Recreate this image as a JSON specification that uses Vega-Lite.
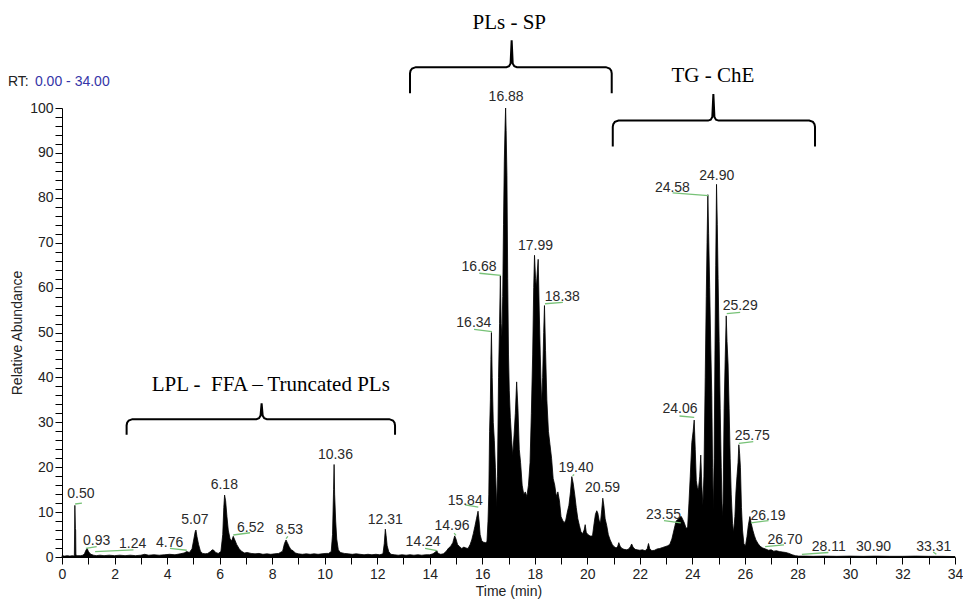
{
  "$schema": "https://vega.github.io/schema/vega-lite/v6.json",
  "width": 893,
  "height": 449,
  "autosize": {"type": "none"},
  "padding": {"left": 62, "top": 108, "right": 8, "bottom": 43},
  "background": "white",
  "config": {
    "view": {"stroke": null},
    "font": "Liberation Sans",
    "axis": {"grid": false, "domainColor": "#000000", "tickColor": "#000000", "labelColor": "#222222", "titleColor": "#222222", "labelFont": "Liberation Sans", "titleFont": "Liberation Sans", "labelFontSize": 14, "titleFontSize": 14, "titleFontWeight": "normal", "labelOverlap": false}
  },
  "datasets": {
    "chrom": [
      {"t":0.00,"a":0.3},{"t":0.10,"a":0.2},{"t":0.20,"a":0.3},{"t":0.30,"a":0.2},{"t":0.40,"a":0.3},{"t":0.47,"a":0.2},{"t":0.49,"a":11.5},{"t":0.51,"a":6.3},{"t":0.52,"a":6.0},{"t":0.53,"a":0.4},
      {"t":0.60,"a":0.3},{"t":0.70,"a":0.3},{"t":0.80,"a":0.4},{"t":0.86,"a":0.8},{"t":0.92,"a":1.6},{"t":0.96,"a":1.9},{"t":1.00,"a":1.3},{"t":1.05,"a":0.9},{"t":1.10,"a":0.6},{"t":1.20,"a":0.4},
      {"t":1.30,"a":0.3},{"t":1.45,"a":0.4},{"t":1.60,"a":0.3},{"t":1.80,"a":0.4},{"t":2.00,"a":0.3},{"t":2.20,"a":0.4},{"t":2.40,"a":0.3},{"t":2.60,"a":0.4},{"t":2.80,"a":0.3},{"t":3.00,"a":0.4},
      {"t":3.15,"a":0.6},{"t":3.30,"a":0.4},{"t":3.50,"a":0.5},{"t":3.70,"a":0.4},{"t":3.90,"a":0.5},{"t":4.10,"a":0.6},{"t":4.30,"a":0.5},{"t":4.50,"a":0.7},{"t":4.65,"a":0.9},{"t":4.75,"a":1.2},
      {"t":4.85,"a":1.0},{"t":4.95,"a":1.8},{"t":5.02,"a":4.0},{"t":5.07,"a":5.6},{"t":5.10,"a":6.0},{"t":5.14,"a":4.5},{"t":5.20,"a":2.8},{"t":5.27,"a":1.3},{"t":5.35,"a":0.8},{"t":5.45,"a":0.7},
      {"t":5.55,"a":0.8},{"t":5.65,"a":1.2},{"t":5.72,"a":1.6},{"t":5.78,"a":1.5},{"t":5.85,"a":1.0},{"t":5.95,"a":0.8},{"t":6.05,"a":1.2},{"t":6.12,"a":5.0},{"t":6.16,"a":11.0},{"t":6.19,"a":13.8},
      {"t":6.23,"a":12.5},{"t":6.28,"a":9.0},{"t":6.33,"a":6.0},{"t":6.40,"a":4.0},{"t":6.46,"a":3.6},{"t":6.52,"a":4.6},{"t":6.58,"a":3.8},{"t":6.65,"a":2.8},{"t":6.75,"a":1.8},{"t":6.85,"a":1.2},
      {"t":6.95,"a":0.9},{"t":7.05,"a":1.0},{"t":7.20,"a":0.8},{"t":7.35,"a":0.7},{"t":7.50,"a":0.8},{"t":7.65,"a":0.6},{"t":7.80,"a":0.7},{"t":7.95,"a":0.6},{"t":8.10,"a":0.7},{"t":8.25,"a":0.8},
      {"t":8.40,"a":1.3},{"t":8.47,"a":3.0},{"t":8.53,"a":3.8},{"t":8.58,"a":3.2},{"t":8.65,"a":2.3},{"t":8.72,"a":1.6},{"t":8.80,"a":1.4},{"t":8.88,"a":0.9},{"t":9.00,"a":0.7},{"t":9.15,"a":0.6},
      {"t":9.30,"a":0.7},{"t":9.45,"a":0.6},{"t":9.60,"a":0.7},{"t":9.75,"a":0.6},{"t":9.90,"a":0.7},{"t":10.05,"a":0.8},{"t":10.15,"a":0.8},{"t":10.25,"a":1.2},{"t":10.30,"a":5.0},{"t":10.34,"a":15.0},
      {"t":10.36,"a":20.6},{"t":10.38,"a":14.0},{"t":10.42,"a":8.0},{"t":10.46,"a":4.0},{"t":10.52,"a":1.6},{"t":10.60,"a":1.0},{"t":10.75,"a":0.8},{"t":10.90,"a":0.7},{"t":11.05,"a":0.6},{"t":11.20,"a":0.7},
      {"t":11.35,"a":0.6},{"t":11.50,"a":0.5},{"t":11.65,"a":0.6},{"t":11.80,"a":0.5},{"t":11.95,"a":0.6},{"t":12.10,"a":0.5},{"t":12.22,"a":0.7},{"t":12.27,"a":3.0},{"t":12.31,"a":6.2},{"t":12.34,"a":4.8},
      {"t":12.38,"a":2.5},{"t":12.44,"a":1.2},{"t":12.52,"a":0.6},{"t":12.65,"a":0.5},{"t":12.80,"a":0.4},{"t":12.95,"a":0.5},{"t":13.10,"a":0.4},{"t":13.25,"a":0.5},{"t":13.40,"a":0.4},{"t":13.55,"a":0.5},
      {"t":13.70,"a":0.4},{"t":13.85,"a":0.5},{"t":14.00,"a":0.5},{"t":14.12,"a":0.7},{"t":14.22,"a":1.1},{"t":14.27,"a":1.4},{"t":14.32,"a":0.8},{"t":14.42,"a":0.6},{"t":14.52,"a":0.7},{"t":14.62,"a":1.2},
      {"t":14.72,"a":2.0},{"t":14.80,"a":2.4},{"t":14.88,"a":3.2},{"t":14.95,"a":4.7},{"t":15.00,"a":4.0},{"t":15.06,"a":2.8},{"t":15.14,"a":2.3},{"t":15.22,"a":1.9},{"t":15.30,"a":2.2},{"t":15.38,"a":2.0},
      {"t":15.46,"a":1.9},{"t":15.54,"a":2.8},{"t":15.60,"a":3.8},{"t":15.66,"a":5.2},{"t":15.72,"a":6.8},{"t":15.78,"a":8.5},{"t":15.84,"a":10.2},{"t":15.88,"a":8.0},{"t":15.92,"a":5.0},{"t":15.98,"a":3.6},
      {"t":16.05,"a":3.3},{"t":16.12,"a":3.2},{"t":16.18,"a":3.4},{"t":16.22,"a":8.0},{"t":16.25,"a":14.0},{"t":16.28,"a":28.0},{"t":16.31,"a":35.0},{"t":16.33,"a":44.0},{"t":16.35,"a":50.0},{"t":16.38,"a":40.0},
      {"t":16.42,"a":30.0},{"t":16.46,"a":26.0},{"t":16.50,"a":20.0},{"t":16.55,"a":11.0},{"t":16.58,"a":18.0},{"t":16.62,"a":40.0},{"t":16.66,"a":52.0},{"t":16.69,"a":62.6},{"t":16.72,"a":52.0},{"t":16.75,"a":49.0},
      {"t":16.78,"a":58.0},{"t":16.81,"a":74.0},{"t":16.84,"a":88.0},{"t":16.87,"a":96.0},{"t":16.89,"a":100},{"t":16.91,"a":95.0},{"t":16.94,"a":85.0},{"t":16.97,"a":62.0},{"t":17.00,"a":45.0},{"t":17.03,"a":37.0},
      {"t":17.07,"a":31.0},{"t":17.12,"a":26.0},{"t":17.16,"a":22.6},{"t":17.21,"a":27.0},{"t":17.26,"a":32.0},{"t":17.31,"a":39.0},{"t":17.36,"a":33.0},{"t":17.41,"a":24.0},{"t":17.46,"a":21.0},{"t":17.52,"a":16.0},
      {"t":17.58,"a":14.0},{"t":17.64,"a":14.5},{"t":17.70,"a":13.5},{"t":17.76,"a":16.0},{"t":17.82,"a":21.0},{"t":17.87,"a":32.0},{"t":17.92,"a":45.0},{"t":17.96,"a":60.0},{"t":17.99,"a":67.2},{"t":18.03,"a":62.0},
      {"t":18.06,"a":60.0},{"t":18.09,"a":63.0},{"t":18.13,"a":66.3},{"t":18.17,"a":55.0},{"t":18.21,"a":45.0},{"t":18.26,"a":34.0},{"t":18.30,"a":40.0},{"t":18.34,"a":50.0},{"t":18.37,"a":56.0},{"t":18.41,"a":46.0},
      {"t":18.46,"a":35.0},{"t":18.52,"a":28.0},{"t":18.58,"a":25.0},{"t":18.64,"a":22.0},{"t":18.70,"a":17.5},{"t":18.76,"a":16.0},{"t":18.82,"a":13.5},{"t":18.88,"a":14.5},{"t":18.94,"a":12.5},{"t":19.00,"a":9.0},
      {"t":19.06,"a":8.2},{"t":19.12,"a":7.6},{"t":19.18,"a":8.2},{"t":19.24,"a":10.0},{"t":19.30,"a":11.5},{"t":19.36,"a":14.5},{"t":19.41,"a":17.9},{"t":19.46,"a":16.5},{"t":19.52,"a":14.0},{"t":19.58,"a":11.0},
      {"t":19.64,"a":8.5},{"t":19.70,"a":7.0},{"t":19.76,"a":5.6},{"t":19.82,"a":5.2},{"t":19.88,"a":6.0},{"t":19.92,"a":7.2},{"t":19.96,"a":5.5},{"t":20.02,"a":5.0},{"t":20.08,"a":4.8},{"t":20.14,"a":4.6},
      {"t":20.20,"a":4.8},{"t":20.26,"a":7.5},{"t":20.31,"a":9.5},{"t":20.36,"a":10.3},{"t":20.40,"a":9.8},{"t":20.45,"a":8.2},{"t":20.50,"a":7.6},{"t":20.55,"a":10.5},{"t":20.59,"a":13.1},{"t":20.63,"a":11.5},
      {"t":20.68,"a":8.5},{"t":20.74,"a":7.0},{"t":20.80,"a":5.0},{"t":20.87,"a":3.8},{"t":20.95,"a":2.8},{"t":21.02,"a":2.3},{"t":21.10,"a":2.0},{"t":21.16,"a":2.4},{"t":21.20,"a":3.2},{"t":21.25,"a":2.4},
      {"t":21.32,"a":1.9},{"t":21.40,"a":1.7},{"t":21.50,"a":1.6},{"t":21.58,"a":1.8},{"t":21.64,"a":2.3},{"t":21.69,"a":2.9},{"t":21.74,"a":2.2},{"t":21.82,"a":1.7},{"t":21.90,"a":1.6},{"t":22.00,"a":1.5},
      {"t":22.10,"a":1.6},{"t":22.20,"a":1.4},{"t":22.28,"a":1.8},{"t":22.33,"a":3.0},{"t":22.38,"a":1.8},{"t":22.46,"a":1.4},{"t":22.56,"a":1.5},{"t":22.66,"a":1.8},{"t":22.76,"a":1.9},{"t":22.86,"a":2.1},
      {"t":22.96,"a":2.3},{"t":23.06,"a":2.5},{"t":23.14,"a":2.8},{"t":23.22,"a":4.0},{"t":23.30,"a":6.0},{"t":23.38,"a":8.0},{"t":23.46,"a":8.4},{"t":23.52,"a":8.9},{"t":23.58,"a":9.0},{"t":23.64,"a":8.3},
      {"t":23.70,"a":7.5},{"t":23.76,"a":6.4},{"t":23.82,"a":6.6},{"t":23.87,"a":12.0},{"t":23.92,"a":18.0},{"t":23.98,"a":25.5},{"t":24.03,"a":28.0},{"t":24.07,"a":30.5},{"t":24.11,"a":24.0},{"t":24.15,"a":17.0},
      {"t":24.19,"a":15.5},{"t":24.23,"a":15.0},{"t":24.28,"a":18.0},{"t":24.32,"a":22.7},{"t":24.36,"a":16.0},{"t":24.40,"a":11.5},{"t":24.44,"a":18.0},{"t":24.49,"a":40.0},{"t":24.53,"a":58.0},{"t":24.56,"a":70.0},
      {"t":24.59,"a":80.7},{"t":24.62,"a":72.0},{"t":24.66,"a":60.0},{"t":24.70,"a":47.0},{"t":24.74,"a":36.0},{"t":24.77,"a":20.0},{"t":24.80,"a":10.5},{"t":24.83,"a":22.0},{"t":24.86,"a":45.0},{"t":24.89,"a":65.0},
      {"t":24.92,"a":83.0},{"t":24.95,"a":74.0},{"t":24.98,"a":62.0},{"t":25.02,"a":48.0},{"t":25.06,"a":33.0},{"t":25.10,"a":20.0},{"t":25.14,"a":9.0},{"t":25.17,"a":12.0},{"t":25.21,"a":33.0},{"t":25.25,"a":44.0},
      {"t":25.29,"a":53.7},{"t":25.32,"a":48.0},{"t":25.36,"a":43.0},{"t":25.40,"a":33.0},{"t":25.44,"a":22.0},{"t":25.48,"a":14.0},{"t":25.53,"a":7.5},{"t":25.57,"a":5.5},{"t":25.62,"a":9.0},{"t":25.66,"a":14.5},
      {"t":25.70,"a":18.0},{"t":25.74,"a":21.0},{"t":25.77,"a":25.0},{"t":25.80,"a":23.0},{"t":25.83,"a":20.0},{"t":25.87,"a":11.0},{"t":25.91,"a":6.0},{"t":25.96,"a":3.0},{"t":26.02,"a":2.4},{"t":26.08,"a":4.5},
      {"t":26.13,"a":7.0},{"t":26.19,"a":9.0},{"t":26.24,"a":7.5},{"t":26.30,"a":6.0},{"t":26.36,"a":4.8},{"t":26.42,"a":3.8},{"t":26.50,"a":3.0},{"t":26.58,"a":2.4},{"t":26.68,"a":2.0},{"t":26.78,"a":1.8},
      {"t":26.90,"a":1.5},{"t":27.00,"a":1.6},{"t":27.10,"a":1.3},{"t":27.20,"a":1.4},{"t":27.32,"a":1.2},{"t":27.44,"a":1.1},{"t":27.56,"a":1.0},{"t":27.68,"a":0.8},{"t":27.80,"a":0.5},{"t":27.92,"a":0.3},
      {"t":28.05,"a":0.2},{"t":28.30,"a":0.2},{"t":28.60,"a":0.15},{"t":29.00,"a":0.2},{"t":29.50,"a":0.15},{"t":30.00,"a":0.2},{"t":30.50,"a":0.15},{"t":31.00,"a":0.2},{"t":31.50,"a":0.15},{"t":32.00,"a":0.15},
      {"t":32.50,"a":0.2},{"t":33.00,"a":0.15},{"t":33.50,"a":0.15},{"t":34.00,"a":0.1}
    ],
    "labels": [
      {"lab":"0.50","t":0.72,"a":14.0},{"lab":"0.93","t":1.32,"a":3.6},{"lab":"1.24","t":2.69,"a":2.9},{"lab":"4.76","t":4.10,"a":3.2},
      {"lab":"5.07","t":5.06,"a":8.2},{"lab":"6.18","t":6.18,"a":16.0},{"lab":"6.52","t":7.18,"a":6.4},{"lab":"8.53","t":8.66,"a":6.0},
      {"lab":"10.36","t":10.41,"a":22.7},{"lab":"12.31","t":12.31,"a":8.2},{"lab":"14.24","t":13.75,"a":3.3},{"lab":"14.96","t":14.85,"a":6.9},
      {"lab":"15.84","t":15.35,"a":12.5},{"lab":"16.34","t":15.68,"a":52.1},{"lab":"16.68","t":15.88,"a":64.5},{"lab":"16.88","t":16.91,"a":102.4},
      {"lab":"17.99","t":18.03,"a":69.2},{"lab":"18.38","t":19.05,"a":58.0},{"lab":"19.40","t":19.57,"a":19.8},{"lab":"20.59","t":20.58,"a":15.3},
      {"lab":"23.55","t":22.90,"a":9.4},{"lab":"24.06","t":23.53,"a":32.9},{"lab":"24.58","t":23.24,"a":82.2},{"lab":"24.90","t":24.93,"a":84.9},
      {"lab":"25.29","t":25.82,"a":55.8},{"lab":"25.75","t":26.28,"a":27.0},{"lab":"26.19","t":26.88,"a":9.1},{"lab":"26.70","t":27.53,"a":3.8},
      {"lab":"28.11","t":29.19,"a":2.3},{"lab":"30.90","t":30.90,"a":2.3},{"lab":"33.31","t":33.19,"a":2.3}
    ],
    "greens": [
      {"t":0.50,"a":11.8,"t2":0.76,"a2":12.0},{"t":0.91,"a":1.9,"t2":1.32,"a2":2.3},{"t":1.26,"a":1.2,"t2":2.72,"a2":1.6},{"t":4.11,"a":1.9,"t2":4.75,"a2":1.5},
      {"t":6.52,"a":4.9,"t2":7.16,"a2":5.4},{"t":8.53,"a":4.1,"t2":8.60,"a2":4.6},{"t":13.82,"a":1.9,"t2":14.27,"a2":1.4},{"t":14.93,"a":5.3,"t2":15.00,"a2":4.8},
      {"t":15.35,"a":11.6,"t2":15.85,"a2":11.1},{"t":15.69,"a":50.7,"t2":16.37,"a2":50.2},{"t":15.89,"a":63.2,"t2":16.71,"a2":62.7},{"t":18.39,"a":56.4,"t2":19.07,"a2":56.7},
      {"t":19.44,"a":18.1,"t2":19.50,"a2":18.4},{"t":22.92,"a":8.1,"t2":23.56,"a2":7.6},{"t":23.51,"a":31.4,"t2":24.07,"a2":31.1},{"t":23.25,"a":81.1,"t2":24.61,"a2":80.5},
      {"t":25.31,"a":54.2,"t2":25.82,"a2":54.5},{"t":25.77,"a":25.3,"t2":26.32,"a2":25.7},{"t":26.23,"a":7.6,"t2":26.90,"a2":8.1},{"t":26.77,"a":2.3,"t2":27.49,"a2":2.7},
      {"t":28.17,"a":0.6,"t2":29.18,"a2":1.0},{"t":33.17,"a":1.1,"t2":33.29,"a2":0.6}
    ],
    "brackets": [
      {"b":"A","o":1,"t":2.46,"a":27.2},{"b":"A","o":2,"t":2.46,"a":29.3},{"b":"A","o":3,"t":2.48,"a":29.9},{"b":"A","o":4,"t":2.54,"a":30.4},{"b":"A","o":5,"t":2.68,"a":30.7},{"b":"A","o":6,"t":7.40,"a":30.7},{"b":"A","o":7,"t":7.50,"a":30.9},{"b":"A","o":8,"t":7.56,"a":31.5},{"b":"A","o":9,"t":7.60,"a":34.2},{"b":"A","o":10,"t":7.64,"a":31.5},{"b":"A","o":11,"t":7.70,"a":30.9},{"b":"A","o":12,"t":7.80,"a":30.7},{"b":"A","o":13,"t":12.46,"a":30.7},{"b":"A","o":14,"t":12.60,"a":30.4},{"b":"A","o":15,"t":12.66,"a":29.9},{"b":"A","o":16,"t":12.68,"a":29.3},{"b":"A","o":17,"t":12.68,"a":27.2},
      {"b":"B","o":1,"t":13.25,"a":103.3},{"b":"B","o":2,"t":13.25,"a":107.7},{"b":"B","o":3,"t":13.27,"a":108.3},{"b":"B","o":4,"t":13.33,"a":108.8},{"b":"B","o":5,"t":13.47,"a":109.1},{"b":"B","o":6,"t":16.92,"a":109.1},{"b":"B","o":7,"t":17.02,"a":109.3},{"b":"B","o":8,"t":17.08,"a":109.9},{"b":"B","o":9,"t":17.12,"a":115.1},{"b":"B","o":10,"t":17.16,"a":109.9},{"b":"B","o":11,"t":17.22,"a":109.3},{"b":"B","o":12,"t":17.32,"a":109.1},{"b":"B","o":13,"t":20.71,"a":109.1},{"b":"B","o":14,"t":20.85,"a":108.8},{"b":"B","o":15,"t":20.91,"a":108.3},{"b":"B","o":16,"t":20.93,"a":107.7},{"b":"B","o":17,"t":20.93,"a":103.3},
      {"b":"C","o":1,"t":20.97,"a":91.4},{"b":"C","o":2,"t":20.97,"a":95.8},{"b":"C","o":3,"t":20.99,"a":96.4},{"b":"C","o":4,"t":21.05,"a":96.9},{"b":"C","o":5,"t":21.19,"a":97.2},{"b":"C","o":6,"t":24.60,"a":97.2},{"b":"C","o":7,"t":24.70,"a":97.4},{"b":"C","o":8,"t":24.76,"a":98.0},{"b":"C","o":9,"t":24.80,"a":103.1},{"b":"C","o":10,"t":24.84,"a":98.0},{"b":"C","o":11,"t":24.90,"a":97.4},{"b":"C","o":12,"t":25.00,"a":97.2},{"b":"C","o":13,"t":28.45,"a":97.2},{"b":"C","o":14,"t":28.59,"a":96.9},{"b":"C","o":15,"t":28.65,"a":96.4},{"b":"C","o":16,"t":28.67,"a":95.8},{"b":"C","o":17,"t":28.67,"a":91.4}
    ],
    "btext": [
      {"txt":"LPL -\u00a0 FFA – Truncated PLs","t":7.95,"a":38.3},
      {"txt":"PLs - SP","t":17.03,"a":118.9},
      {"txt":"TG - ChE","t":24.78,"a":107.2}
    ],
    "rt": [
      {"txt":"RT:","part":"label","t":-2.06,"a":105.7},
      {"txt":"0.00 - 34.00","part":"range","t":-1.03,"a":105.7}
    ]
  },
  "encoding": {
    "x": {"field": "t", "type": "quantitative", "scale": {"domain": [0, 34], "nice": false, "zero": false},
      "axis": {"title": "Time (min)", "values": [0,0.5,1,1.5,2,2.5,3,3.5,4,4.5,5,5.5,6,6.5,7,7.5,8,8.5,9,9.5,10,10.5,11,11.5,12,12.5,13,13.5,14,14.5,15,15.5,16,16.5,17,17.5,18,18.5,19,19.5,20,20.5,21,21.5,22,22.5,23,23.5,24,24.5,25,25.5,26,26.5,27,27.5,28,28.5,29,29.5,30,30.5,31,31.5,32,32.5,33,33.5,34],
        "format": "d", "labelExpr": "datum.value % 2 === 0 ? datum.label : ''", "labelOverlap": false, "labelFlush": false, "labelBound": false, "labelPadding": 3, "titlePadding": 3, "tickSize": 7,
        "encode": {"ticks": {"update": {"y2": {"signal": "datum.value % 2 === 0 ? 7 : 4"}}}}}},
    "y": {"field": "a", "type": "quantitative", "scale": {"domain": [0, 100], "nice": false},
      "axis": {"title": "Relative Abundance", "values": [0,2,4,6,8,10,12,14,16,18,20,22,24,26,28,30,32,34,36,38,40,42,44,46,48,50,52,54,56,58,60,62,64,66,68,70,72,74,76,78,80,82,84,86,88,90,92,94,96,98,100],
        "format": "d", "labelExpr": "datum.value % 10 === 0 ? datum.label : ''", "labelOverlap": false, "labelFlush": false, "labelBound": false, "labelPadding": 2, "titlePadding": 5, "tickSize": 7,
        "encode": {"ticks": {"update": {"x2": {"signal": "datum.value % 10 === 0 ? -7 : -4"}}}}}}
  },
  "layer": [
    {
      "data": {"name": "chrom"},
      "mark": {"type": "area", "color": "#000000", "stroke": "#000000", "strokeWidth": 0.8, "interpolate": "linear"}
    },
    {
      "data": {"name": "greens"},
      "mark": {"type": "rule", "color": "#77c277", "strokeWidth": 1.3},
      "encoding": {"x2": {"field": "t2"}, "y2": {"field": "a2"}}
    },
    {
      "data": {"name": "labels"},
      "mark": {"type": "text", "font": "Liberation Sans", "fontSize": 14, "color": "#2a2a2a", "align": "center", "baseline": "middle"},
      "encoding": {"text": {"field": "lab"}}
    },
    {
      "data": {"name": "brackets"},
      "mark": {"type": "line", "color": "#000000", "strokeWidth": 2, "interpolate": "linear"},
      "encoding": {"detail": {"field": "b"}, "order": {"field": "o", "type": "quantitative"}}
    },
    {
      "data": {"name": "btext"},
      "mark": {"type": "text", "font": "Liberation Serif", "fontSize": 21, "color": "#000000", "align": "center", "baseline": "middle"},
      "encoding": {"text": {"field": "txt"}}
    },
    {
      "data": {"name": "rt"},
      "mark": {"type": "text", "font": "Liberation Sans", "fontSize": 14, "align": "left", "baseline": "middle"},
      "encoding": {
        "text": {"field": "txt"},
        "color": {"field": "part", "type": "nominal", "scale": {"domain": ["label", "range"], "range": ["#222222", "#3535a8"]}, "legend": null}
      }
    }
  ]
}
